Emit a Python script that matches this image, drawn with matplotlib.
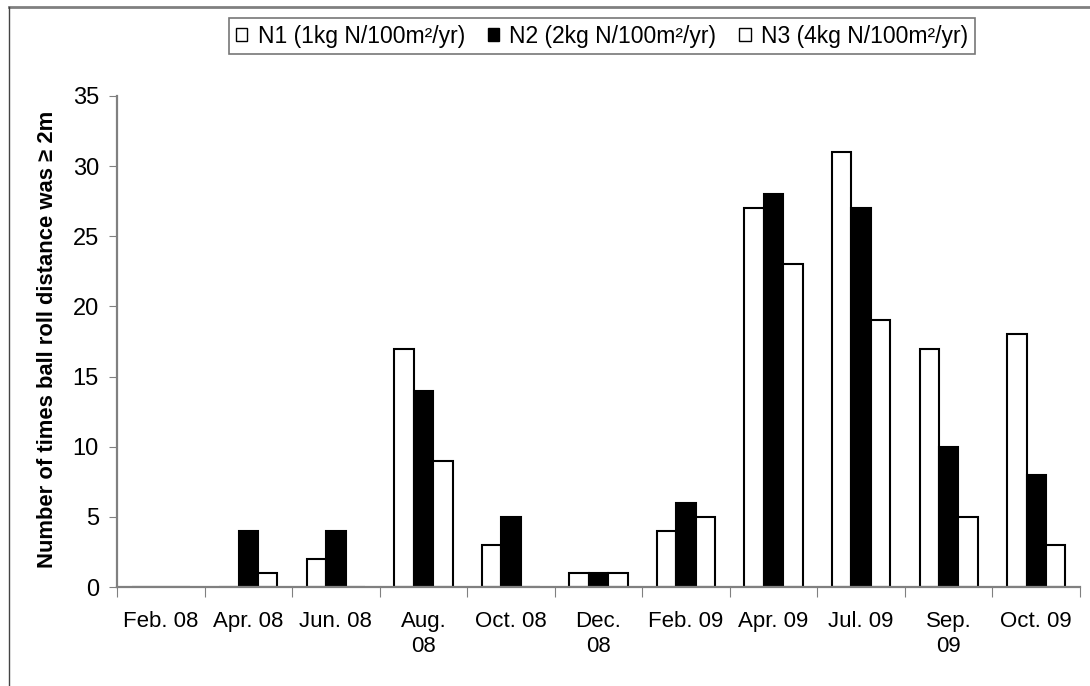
import matplotlib
matplotlib.use('Agg')
import matplotlib.pyplot as plt
import numpy as np
from matplotlib.lines import Line2D

plt.rcParams.update({
    'font.family': ['Liberation Sans', 'DejaVu Sans'],
    'font.size': 12,
})

# --- Data ---
months = ['Feb. 08', 'Apr. 08', 'Jun. 08', 'Aug.\n08', 'Oct. 08', 'Dec.\n08',
          'Feb. 09', 'Apr. 09', 'Jul. 09', 'Sep.\n09', 'Oct. 09']
n1 = [0, 0, 2, 17, 3, 1, 4, 27, 31, 17, 18]
n2 = [0, 4, 4, 14, 5, 1, 6, 28, 27, 10, 8]
n3 = [0, 1, 0, 9, 0, 1, 5, 23, 19, 5, 3]
labels = ['N1 (1kg N/100m\u00b2/yr)', 'N2 (2kg N/100m\u00b2/yr)', 'N3 (4kg N/100m\u00b2/yr)']

GREY = '#808080'

fig = plt.figure(figsize=(10.9, 6.86), dpi=100)
ax = fig.add_axes([117/1090, 1 - 587/686, (1080-117)/1090, (587-96)/686])

x = np.arange(len(months))
w = 0.222
ax.bar(x - w, n1, w, color='white', edgecolor='black', linewidth=1.5, label=labels[0])
ax.bar(x, n2, w, color='black', edgecolor='black', linewidth=1.5, label=labels[1])
ax.bar(x + w, n3, w, color='white', edgecolor='black', linewidth=1.5, label=labels[2])

ax.set_xlim(-0.5, len(months) - 0.5)
ax.set_ylim(0, 35)
ax.set_yticks(np.arange(0, 36, 5))

# category boundaries as major ticks, labels at minor ticks
ax.set_xticks(np.arange(-0.5, len(months), 1.0))
ax.set_xticklabels([])
ax.set_xticks(x, minor=True)
ax.set_xticklabels(months, minor=True, fontsize=16, linespacing=1.3)
ax.tick_params(axis='x', which='major', direction='out', length=7, color=GREY)
ax.tick_params(axis='x', which='minor', length=0, pad=17)
ax.tick_params(axis='y', direction='out', length=6, color=GREY, labelsize=17, pad=7)

for s in ['top', 'right']:
    ax.spines[s].set_visible(False)
for s in ['left', 'bottom']:
    ax.spines[s].set_color(GREY)
    ax.spines[s].set_linewidth(1.6)
    ax.spines[s].set_zorder(3)

fig.text(48/1090, 1 - 339/686, 'Number of times ball roll distance was \u2265 2m',
         rotation=90, ha='center', va='center', fontweight='bold', fontsize=15.8)

leg = fig.legend(loc='center', bbox_to_anchor=(602/1090, 1 - 36/686), ncol=3,
                 fontsize=16.5, frameon=True, fancybox=False, handlelength=0.5,
                 handleheight=0.5, handletextpad=0.45, columnspacing=1.0,
                 borderpad=0.3, borderaxespad=0)
leg.get_frame().set_edgecolor('#555555')
leg.get_frame().set_linewidth(1.2)
for h in leg.legend_handles:
    h.set_linewidth(1.0)

# outer frame (top and left)
fig.add_artist(Line2D([9/1090, 1], [1 - 7/686, 1 - 7/686], color=GREY, lw=2.0,
                      transform=fig.transFigure))
fig.add_artist(Line2D([9/1090, 9/1090], [0, 1 - 7/686], color='#444444', lw=1.0,
                      transform=fig.transFigure))

fig.savefig('out.png', dpi=100)
